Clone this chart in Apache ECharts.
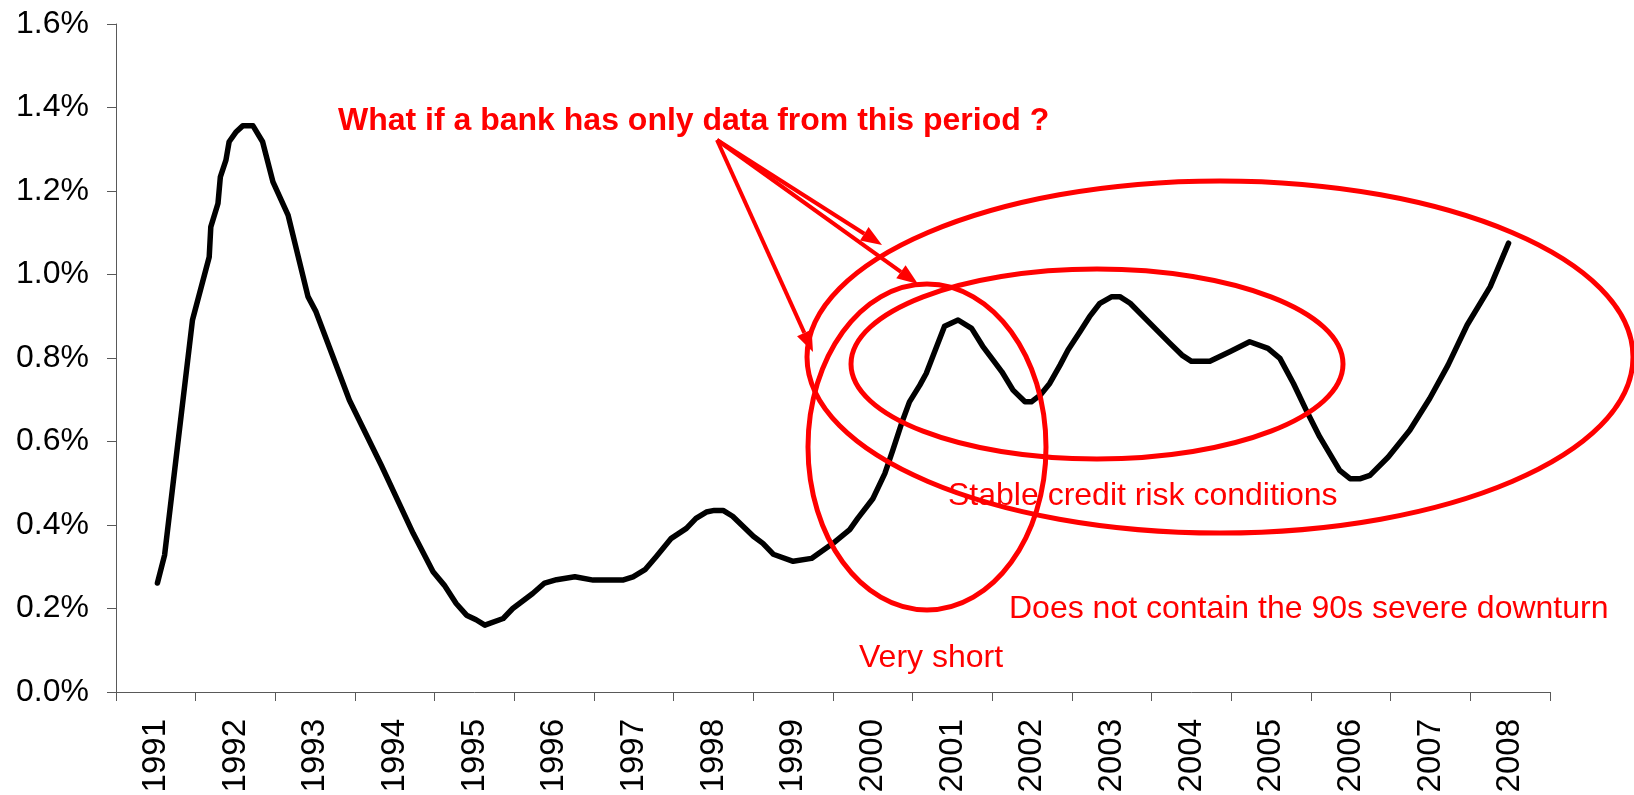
<!DOCTYPE html>
<html>
<head>
<meta charset="utf-8">
<script src="https://cdn.jsdelivr.net/npm/echarts@6/dist/echarts.min.js"></script>
<style>
  html, body { margin: 0; padding: 0; background: #ffffff; }
  #chart { width: 1634px; height: 795px; }
</style>
</head>
<body>
<div id="chart"></div>
<script>
// Year categories shown on the horizontal axis
const years = ['1991','1992','1993','1994','1995','1996','1997','1998','1999',
               '2000','2001','2002','2003','2004','2005','2006','2007','2008'];

// Observation dates (decimal years) and default rate in %
const obsTime = [
  1991.52, 1991.61, 1991.96, 1992.17, 1992.19, 1992.28, 1992.31, 1992.38, 1992.42, 1992.51,
  1992.59, 1992.72, 1992.84, 1992.97, 1993.16, 1993.41, 1993.51, 1993.93, 1994.33, 1994.73,
  1994.98, 1995.12, 1995.27, 1995.40, 1995.52, 1995.63, 1995.86, 1995.98, 1996.23, 1996.38,
  1996.53, 1996.76, 1996.99, 1997.36, 1997.49, 1997.64, 1997.78, 1997.97, 1998.16, 1998.28,
  1998.41, 1998.51, 1998.62, 1998.74, 1999.00, 1999.12, 1999.25, 1999.50, 1999.73, 2000.00,
  2000.21, 2000.31, 2000.50, 2000.65, 2000.75, 2000.86, 2000.96, 2001.09, 2001.17, 2001.30,
  2001.40, 2001.57, 2001.74, 2001.88, 2002.01, 2002.12, 2002.26, 2002.41, 2002.49, 2002.60,
  2002.72, 2002.85, 2002.95, 2003.10, 2003.22, 2003.35, 2003.50, 2003.60, 2003.73, 2003.98,
  2004.23, 2004.38, 2004.50, 2004.73, 2004.98, 2005.23, 2005.46, 2005.61, 2005.78, 2005.95,
  2006.11, 2006.36, 2006.49, 2006.62, 2006.74, 2006.97, 2007.24, 2007.49, 2007.72, 2007.96,
  2008.25, 2008.48
];
const obsRate = [
  0.261, 0.328, 0.891, 1.042, 1.114, 1.170, 1.234, 1.274, 1.318, 1.342,
  1.356, 1.356, 1.318, 1.222, 1.142, 0.947, 0.911, 0.699, 0.543, 0.380,
  0.288, 0.256, 0.212, 0.184, 0.173, 0.160, 0.176, 0.200, 0.236, 0.261,
  0.269, 0.276, 0.268, 0.268, 0.276, 0.293, 0.324, 0.368, 0.392, 0.416,
  0.431, 0.435, 0.435, 0.421, 0.373, 0.356, 0.330, 0.313, 0.320, 0.356,
  0.389, 0.416, 0.463, 0.523, 0.579, 0.643, 0.695, 0.735, 0.763, 0.827,
  0.876, 0.891, 0.871, 0.828, 0.795, 0.767, 0.723, 0.695, 0.695, 0.711,
  0.739, 0.783, 0.819, 0.863, 0.899, 0.931, 0.947, 0.947, 0.931, 0.883,
  0.835, 0.807, 0.792, 0.792, 0.815, 0.839, 0.823, 0.799, 0.739, 0.671,
  0.611, 0.531, 0.511, 0.511, 0.519, 0.563, 0.627, 0.703, 0.783, 0.879,
  0.971, 1.075
];

const FONT = '"Liberation Sans", Arial, Helvetica, sans-serif';
const RED = '#ff0000';
const AXIS_GREY = '#595959';

// Straight arrow with a filled triangular head
function arrow(x1, y1, x2, y2) {
  const len = 21, half = 8;
  const a = Math.atan2(y2 - y1, x2 - x1);
  const bx = x2 - len * Math.cos(a), by = y2 - len * Math.sin(a);
  return [
    { type: 'line', z: 110, shape: { x1: x1, y1: y1, x2: bx, y2: by },
      style: { stroke: RED, lineWidth: 4 } },
    { type: 'polygon', z: 110,
      shape: { points: [[x2, y2],
                        [bx + half * Math.sin(a), by - half * Math.cos(a)],
                        [bx - half * Math.sin(a), by + half * Math.cos(a)]] },
      style: { fill: RED } }
  ];
}

function ring(cx, cy, rx, ry) {
  return { type: 'ellipse', z: 100, shape: { cx: cx, cy: cy, rx: rx, ry: ry },
           style: { fill: 'none', stroke: RED, lineWidth: 5 } };
}

function note(str, x, y, bold) {
  return { type: 'text', z: 105, x: x, y: y,
           style: { text: str, fill: RED, fontSize: 32, fontFamily: FONT,
                    fontWeight: bold ? 'bold' : 'normal',
                    textAlign: 'left', textVerticalAlign: 'middle' } };
}

const chart = echarts.init(document.getElementById('chart'), null, { renderer: 'canvas' });

chart.setOption({
  backgroundColor: '#ffffff',
  animation: false,
  grid: { left: 116, right: 84, top: 24, bottom: 103, outerBoundsMode: 'none', containLabel: false },
  xAxis: [
    {
      type: 'category',
      data: years,
      boundaryGap: true,
      axisLine: { show: true, lineStyle: { color: AXIS_GREY, width: 1 } },
      axisTick: { show: true, inside: false, length: 9, interval: 0,
                  lineStyle: { color: AXIS_GREY, width: 1 } },
      axisLabel: { interval: 0, rotate: 90, margin: 27, color: '#000',
                   fontSize: 33, fontFamily: FONT },
      splitLine: { show: false }
    },
    {
      type: 'value',
      min: 1991, max: 2009,
      show: false,
      splitLine: { show: false }
    }
  ],
  yAxis: {
    type: 'value',
    min: 0, max: 1.6, interval: 0.2,
    axisLine: { show: true, lineStyle: { color: AXIS_GREY, width: 1 } },
    axisTick: { show: true, inside: false, length: 9,
                lineStyle: { color: AXIS_GREY, width: 1 } },
    axisLabel: { margin: 27, color: '#000', fontSize: 32, fontFamily: FONT,
                 formatter: function (v) { return v.toFixed(1) + '%'; } },
    splitLine: { show: false }
  },
  series: [{
    type: 'line',
    xAxisIndex: 1,
    data: obsTime.map(function (t, i) { return [t, obsRate[i]]; }),
    showSymbol: false,
    symbol: 'none',
    smooth: false,
    lineStyle: { color: '#000000', width: 5.5, join: 'round', cap: 'round' },
    z: 2
  }],
  graphic: [].concat(
    [
      ring(1220, 357, 413, 176),
      ring(1097, 364, 246, 95),
      ring(927, 447, 119, 163),
      note('What if a bank has only data from this period ?', 338, 121, true),
      note('Stable credit risk conditions', 948, 496, false),
      note('Does not contain the 90s severe downturn', 1009, 609, false),
      note('Very short', 859, 658, false)
    ],
    arrow(717, 140, 882, 245),
    arrow(717, 140, 918, 284),
    arrow(717, 140, 813, 352)
  )
});
</script>
</body>
</html>
